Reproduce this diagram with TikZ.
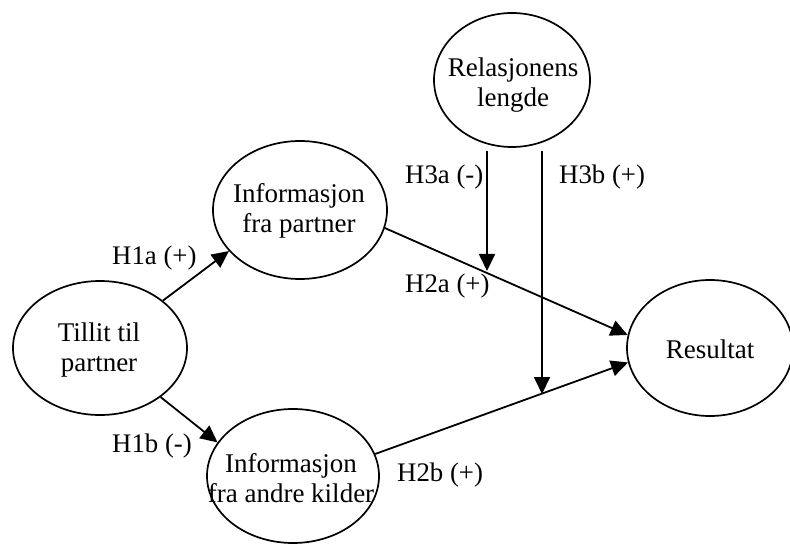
\documentclass[tikz,border=0pt]{standalone}
\usepackage{fontspec}
\setmainfont{Liberation Serif}
\usetikzlibrary{shapes.geometric,arrows.meta}

\begin{document}
\begin{tikzpicture}[x=1bp,y=-1bp,
  oval/.style={draw, ellipse, line width=1.7bp, inner sep=0pt},
  ovaltext/.style={align=center, inner sep=0pt,
    font=\fontsize{27bp}{30bp}\selectfont},
  hyp/.style={anchor=base west, inner sep=0pt,
    font=\fontsize{26.8bp}{30bp}\selectfont},
  conn/.style={line width=1.8bp, -{Triangle[length=17bp,width=16bp]}},
]
% canvas
\fill[white] (0,0) rectangle (790,544);
\useasboundingbox (0,0) rectangle (790,544);

% constructs
\node[oval, minimum width=174bp, minimum height=134bp] (tillit) at (100,348) {};
\node[ovaltext] (tillittxt) at (99,350) {Tillit til\\partner};

\node[oval, minimum width=174bp, minimum height=138bp] (infop) at (300,210) {};
\node[ovaltext] (infoptxt) at (299,211) {Informasjon\\fra partner};

\node[oval, minimum width=172bp, minimum height=134bp] (infoa) at (293,476) {};
\node[ovaltext] (infoatxt) at (291,478) {Informasjon\\fra andre kilder};

\node[oval, minimum width=156bp, minimum height=134bp] (rel) at (512,80) {};
\node[ovaltext] (reltxt) at (513,85) {Relasjonens\\lengde};

\node[oval, minimum width=166bp, minimum height=136bp] (res) at (710,348) {};
\node[ovaltext] (restxt) at (710,349) {Resultat};

% points where the moderating arrows meet the H2 paths
\coordinate (m3a) at (487,271);
\coordinate (m3b) at (542,394);

% direct effects
\draw[conn] (tillit.37.9) -- (infop.210.3);
\draw[conn] (tillit.321.6) -- (infoa.156.2);
\draw[conn] (infop.348.3) -- (res.171);
\draw[conn] (infoa.15.1) -- (res.190.2);

% moderating effects
\draw[conn, shorten <=3bp] (rel.south -| m3a) -- (m3a);
\draw[conn, shorten <=3bp] (rel.south -| m3b) -- (m3b);

% hypothesis labels
\node[hyp] (h1a) at (112,265) {H1a (+)};
\node[hyp] (h1b) at (112,452) {H1b (-)};
\node[hyp] (h2a) at (405,293) {H2a (+)};
\node[hyp] (h2b) at (397,481) {H2b (+)};
\node[hyp] (h3a) at (405,184) {H3a (-)};
\node[hyp] (h3b) at (559,184) {H3b (+)};
\end{tikzpicture}
\end{document}
